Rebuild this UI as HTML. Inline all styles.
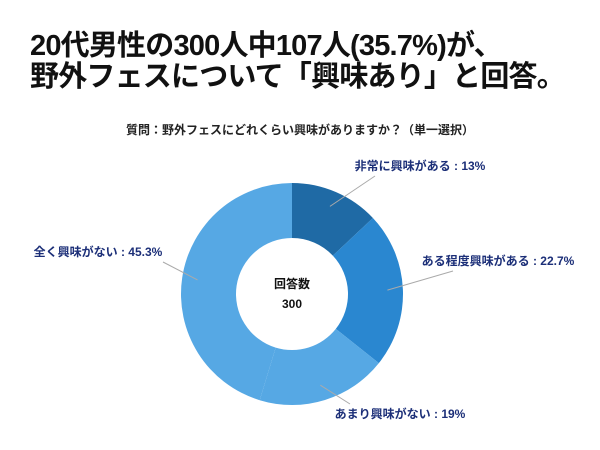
<!DOCTYPE html>
<html><head><meta charset="utf-8"><style>
body{margin:0;background:#fff;width:600px;height:450px;overflow:hidden;font-family:"Liberation Sans","Noto Sans CJK JP",sans-serif}
#t{position:absolute;left:30px;top:31px;font-size:29px;font-weight:bold;line-height:31px;color:#111;letter-spacing:-0.8px}
#s{position:absolute;left:0;width:600px;top:121px;text-align:center;font-size:12px;font-weight:bold;color:#222}
</style></head><body>
<div id="t">20代男性の300人中107人(35.7%)が、<br>野外フェスについて「興味あり」と回答。</div>
<div id="s">質問：野外フェスにどれくらい興味がありますか？（単一選択）</div>
<svg id="c" width="600" height="450" style="position:absolute;left:0;top:0"></svg>
<script>
const labels=["非常に興味がある","ある程度興味がある","あまり興味がない","全く興味がない"];
const values=[13,22.7,19,45.3];
const valueLabels=["13%","22.7%","19%","45.3%"];
const colors=["#1f6aa5","#2a87d0","#56a8e4","#56a8e4"];
const total=300;
const cx=292,cy=294,R=111,r=56;
const svg=document.getElementById('c');const NS='http://www.w3.org/2000/svg';
const sum=values.reduce((a,b)=>a+b,0);
function pt(a,rad){return [cx+rad*Math.sin(a),cy-rad*Math.cos(a)];}
const lab=[{x:420,y:170},{x:498,y:265},{x:400,y:418},{x:98,y:256}];
let a0=0;
values.forEach((v,i)=>{
 const a1=a0+v/sum*2*Math.PI;const lg=(a1-a0)>Math.PI?1:0;
 const [x0,y0]=pt(a0,R),[x1,y1]=pt(a1,R),[x2,y2]=pt(a1,r),[x3,y3]=pt(a0,r);
 const p=document.createElementNS(NS,'path');
 p.setAttribute('d',`M${x0},${y0}A${R},${R} 0 ${lg} 1 ${x1},${y1}L${x2},${y2}A${r},${r} 0 ${lg} 0 ${x3},${y3}Z`);
 p.setAttribute('fill',colors[i]);
 
 
 svg.appendChild(p);
 const am=(a0+a1)/2;const [lx,ly]=pt(am,(R+r)/2+12);
 const L=lab[i];
 const ln=document.createElementNS(NS,'line');
 const tx=i==3?L.x+65:(i==2?L.x-50:L.x-45);const ty=i==2?L.y-14:L.y+6;
 ln.setAttribute('x1',lx);ln.setAttribute('y1',ly);ln.setAttribute('x2',tx);ln.setAttribute('y2',ty);
 ln.setAttribute('stroke','#aaa');ln.setAttribute('stroke-width','1');
 
 
 svg.appendChild(ln);
 const t=document.createElementNS(NS,'text');
 t.setAttribute('x',L.x);t.setAttribute('y',L.y);t.setAttribute('text-anchor','middle');
 t.setAttribute('font-size','12');t.setAttribute('font-weight','bold');t.setAttribute('fill','#1c2f78');
 t.textContent=labels[i]+" : "+valueLabels[i];
 
 
 svg.appendChild(t);
 a0=a1;
});
[["回答数",cy-6],[String(total),cy+14]].forEach((d,k)=>{
 const t=document.createElementNS(NS,'text');
 t.setAttribute('x',cx);t.setAttribute('y',d[1]);t.setAttribute('text-anchor','middle');
 t.setAttribute('font-size','12');t.setAttribute('font-weight','bold');t.setAttribute('fill','#111');
 t.textContent=d[0];
 
 
 svg.appendChild(t);
});
</script></body></html>
